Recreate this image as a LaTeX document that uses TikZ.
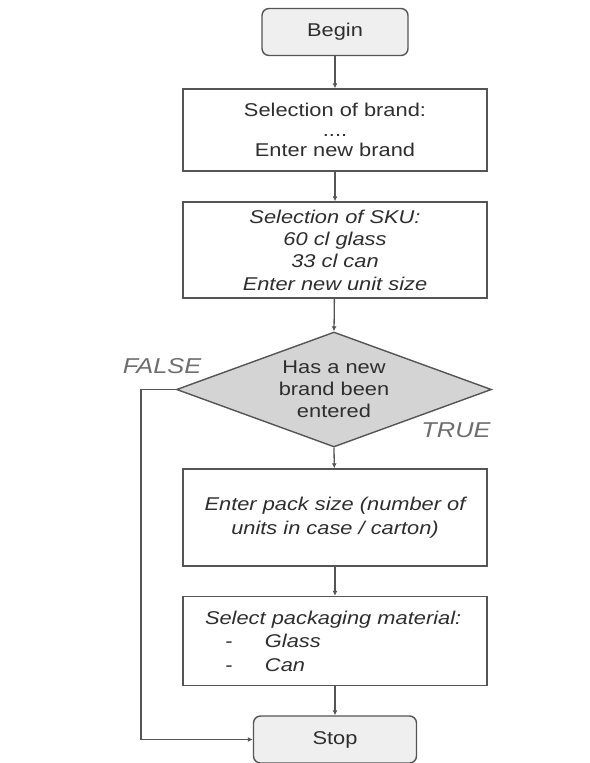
\documentclass[tikz,border=0pt]{standalone}
\usepackage{fontspec}
\setmainfont{Liberation Sans}[FakeStretch=1.18]
\usetikzlibrary{shapes.geometric,arrows.meta}
\definecolor{edge}{HTML}{555555}
\definecolor{ink}{HTML}{2E2E2E}
\definecolor{termfill}{HTML}{EFEFEF}
\definecolor{decfill}{HTML}{D4D4D4}
\definecolor{labelgrey}{HTML}{6E6E6E}
\begin{document}
\begin{tikzpicture}[x=1pt,y=-1pt,
  every node/.style={text=ink, font=\fontsize{18.5}{22}\selectfont},
  terminal/.style={draw=edge, line width=1.4pt, fill=termfill, rounded corners=7pt,
    minimum height=47pt, inner sep=0pt},
  procbox/.style={draw=edge, line width=1.4pt, fill=white, minimum width=304pt,
    align=center, inner sep=0pt},
  decision/.style={draw=edge, line width=1.4pt, fill=decfill, diamond, aspect=2.74,
    minimum width=315pt, minimum height=115pt, inner sep=0pt, align=center},
  flow/.style={draw=edge, line width=1.3pt, -{Latex[length=5pt,width=5pt]}},
  branchlabel/.style={text=labelgrey, font=\fontsize{21.5}{24}\selectfont\itshape}
]
\useasboundingbox (0,0) rectangle (589,763);

% start and end terminals
\node[terminal, minimum width=146pt] (begin) at (335,32) {Begin};
\node[terminal, minimum width=163pt] (stop) at (335,739.5) {Stop};

% processing steps
\node[procbox, minimum height=82pt, font=\fontsize{18.5}{20}\selectfont] (brand) at (335,130)
  {Selection of brand:\\....\\Enter new brand};
\node[procbox, minimum height=96pt, font=\fontsize{18.5}{22.3}\selectfont\itshape] (sku) at (335,250)
  {Selection of SKU:\\60 cl glass\\33 cl can\\Enter new unit size};
\node[decision] (newbrand) at (334,389.5) {Has a new\\brand been\\entered};
\node[procbox, minimum height=97pt, font=\fontsize{18.5}{24}\selectfont\itshape] (pack) at (335,517.5)
  {Enter pack size (number of\\units in case / carton)};
\node[procbox, minimum height=89pt, align=left, text width=260pt, inner xsep=22pt,
  font=\fontsize{18.5}{23.5}\selectfont\itshape] (material) at (335,641)
  {Select packaging material:\\
   \hspace*{20pt}\makebox[40pt][l]{-}Glass\\
   \hspace*{20pt}\makebox[40pt][l]{-}Can};

% branch labels
\node[branchlabel] (falselbl) at (162,366) {FALSE};
\node[branchlabel] (truelbl) at (456,430) {TRUE};

% connectors
\draw[flow] (begin) -- (brand);
\draw[flow] (brand) -- (sku);
\draw[flow] (sku) -- (newbrand.north);
\draw[flow] (newbrand.south) -- (pack);
\draw[flow] (pack) -- (material);
\draw[flow] (material) -- (stop);
\coordinate (bendtop) at (141,389.5);
\coordinate (bendbottom) at (141,739.5);
\draw[flow] (newbrand.west) -- (bendtop) -- (bendbottom) -- (stop.west);
\end{tikzpicture}
\end{document}
